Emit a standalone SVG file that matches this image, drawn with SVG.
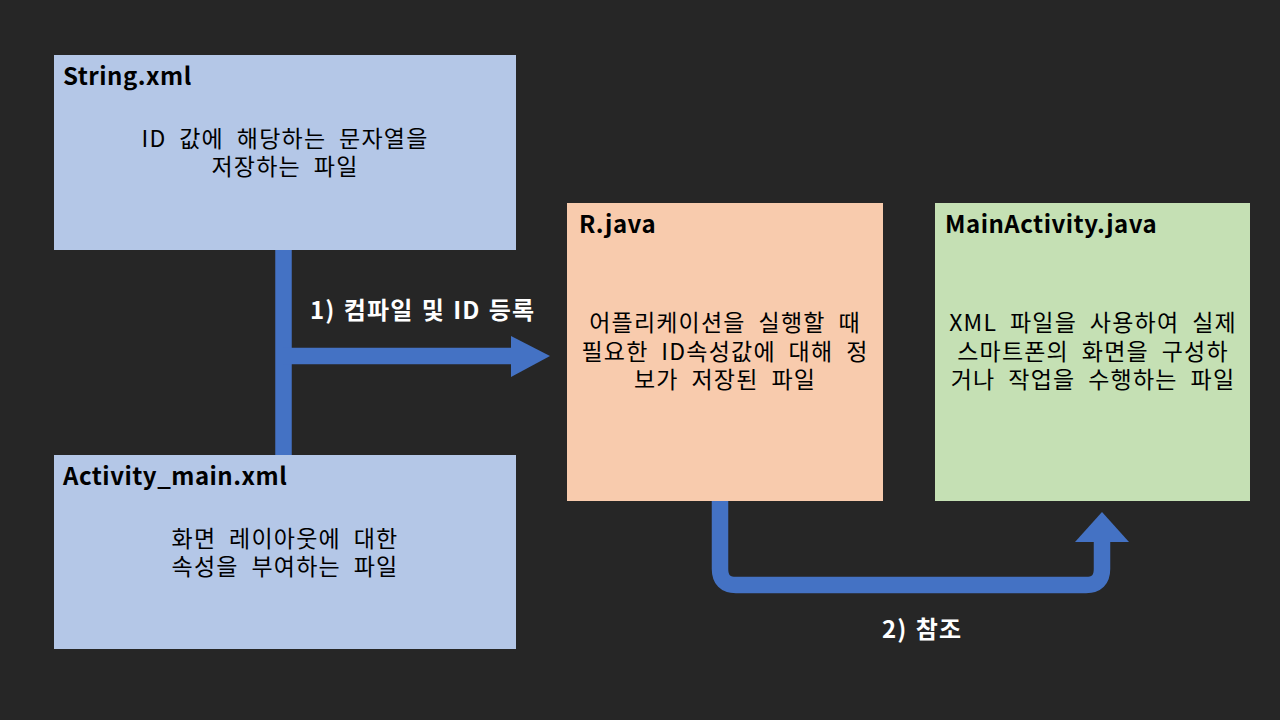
<svg xmlns="http://www.w3.org/2000/svg" width="1280" height="720" viewBox="0 0 1280 720">
<style>
.title{font-family:"Noto Sans CJK KR","Liberation Sans",sans-serif;font-weight:bold;font-size:24px;letter-spacing:0.5px;fill:#000}
.body{font-family:"Noto Sans CJK KR","Liberation Sans",sans-serif;font-size:23px;letter-spacing:1.2px;word-spacing:6.5px;fill:#000;text-anchor:middle}
.lbl{font-family:"Noto Sans CJK KR","Liberation Sans",sans-serif;font-weight:bold;font-size:24px;letter-spacing:1.2px;word-spacing:1.5px;fill:#fff}
.conn{fill:none;stroke:#4472c4;stroke-width:16.5}
.head{fill:#4472c4}
</style>
<rect width="1280" height="720" fill="#262626"/>
<g id="connectors">
<line class="conn" x1="283.5" y1="250" x2="283.5" y2="455"/>
<line class="conn" x1="283.5" y1="356" x2="512" y2="356"/>
<polygon class="head" points="511,336 550,356 511,377"/>
<path class="conn" d="M720,501 V569 Q720,585 736,585 H1086 Q1102,585 1102,569 V540"/>
<polygon class="head" points="1075,542 1102,512 1129,542"/>
<text class="lbl" x="310" y="319">1) 컴파일 및 ID 등록</text>
<text class="lbl" x="882" y="638">2) 참조</text>
</g>
<g id="string-xml">
<rect x="54" y="55" width="462" height="195" fill="#b4c7e7"/>
<text class="title" x="63" y="85">String.xml</text>
<text class="body"><tspan x="285" y="147">ID 값에 해당하는 문자열을</tspan><tspan x="285" y="175">저장하는 파일</tspan></text>
</g>
<g id="activity-main-xml">
<rect x="54" y="455" width="462" height="194" fill="#b4c7e7"/>
<text class="title" x="63" y="485">Activity_main.xml</text>
<text class="body"><tspan x="285" y="547">화면 레이아웃에 대한</tspan><tspan x="285" y="575">속성을 부여하는 파일</tspan></text>
</g>
<g id="r-java">
<rect x="567" y="203" width="316" height="298" fill="#f8cbad"/>
<text class="title" x="579" y="233">R.java</text>
<text class="body"><tspan x="725" y="331">어플리케이션을 실행할 때</tspan><tspan x="725" y="359.5">필요한 ID속성값에 대해 정</tspan><tspan x="725" y="388">보가 저장된 파일</tspan></text>
</g>
<g id="mainactivity-java">
<rect x="935" y="203" width="315" height="298" fill="#c5e0b4"/>
<text class="title" x="945" y="233">MainActivity.java</text>
<text class="body"><tspan x="1093" y="331">XML 파일을 사용하여 실제</tspan><tspan x="1093" y="359.5">스마트폰의 화면을 구성하</tspan><tspan x="1093" y="388">거나 작업을 수행하는 파일</tspan></text>
</g>
</svg>
